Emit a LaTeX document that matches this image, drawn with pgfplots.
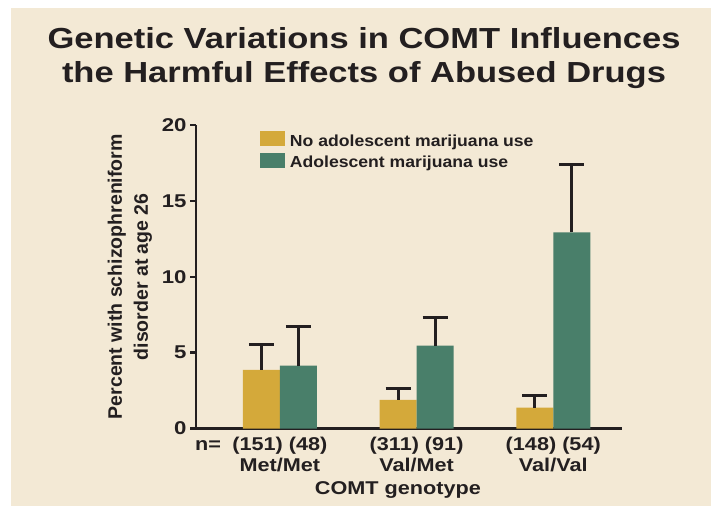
\documentclass[border=0pt]{standalone}
\usepackage{pgfplots}
\pgfplotsset{compat=1.18}
\usepackage{pgfplotstable}
\usepackage{fontspec}
\setmainfont{Liberation Sans}
\newfontfamily\fTitle[FakeStretch=1.19]{Liberation Sans}
\newfontfamily\fTick[FakeStretch=1.17]{Liberation Sans}
\newfontfamily\fYt[FakeStretch=1.2]{Liberation Sans}
\newfontfamily\fLeg[FakeStretch=1.1]{Liberation Sans}
\definecolor{bg}{RGB}{243,233,213}
\definecolor{ink}{RGB}{35,31,32}
\definecolor{gold}{RGB}{212,169,58}
\definecolor{teal}{RGB}{73,127,106}

\pgfplotstableread{
x y e
0 3.86 1.69
1 1.88 0.73
2 1.37 0.83
}\nouse
\pgfplotstableread{
x y e
0 4.14 2.61
1 5.46 1.83
2 12.93 4.47
}\yesuse

\begin{document}
\begin{tikzpicture}
\fill[white] (0,0) rectangle (711pt,506pt);
\fill[bg] (11pt,0) rectangle (711pt,498pt);
\node[anchor=base, text=ink, font=\fTitle\bfseries\fontsize{29}{34}\selectfont] at (364pt,457pt) {Genetic Variations in COMT Influences};
\node[anchor=base, text=ink, font=\fTitle\bfseries\fontsize{29}{34}\selectfont] at (364pt,423pt) {the Harmful Effects of Abused Drugs};
\begin{axis}[
  at={(196pt,77.5pt)}, anchor=south west,
  scale only axis, width=426pt, height=303.5pt,
  clip=false,
  axis lines=left, axis line style={-, line width=2.5pt, ink},
  xmin=-0.614, xmax=2.503, ymin=0, ymax=20,
  ybar=0pt, bar width=37pt,
  xtick={0,1,2},
  xticklabels={Met/Met, Val/Met, Val/Val},
  major x tick style={draw=none},
  extra x ticks={0,1,2},
  extra x tick labels={(151) (48), (311) (91), (148) (54)},
  extra x tick style={major x tick style={draw=none}, xticklabel style={yshift=21.7pt}},
  xticklabel style={anchor=base, yshift=-37.2pt, text=ink, font=\fTick\bfseries\fontsize{18.5}{18.5}\selectfont},
  ytick={0,5,10,15,20},
  tick align=outside, major tick length=6pt,
  major y tick style={line width=2.5pt, ink},
  yticklabel style={text=ink, font=\fYt\bfseries\fontsize{18.5}{18.5}\selectfont},
  /pgf/number format/assume math mode=true,
  ylabel={Percent with schizophreniform\\disorder at age 26},
  ylabel style={at={(axis description cs:-0.155,0.5)}, anchor=center, align=center, text=ink, font=\bfseries\fontsize{19.5}{26}\selectfont},
  xlabel={COMT genotype},
  xlabel style={at={(axis description cs:0.474,-0.219)}, anchor=base, text=ink, font=\fTick\bfseries\fontsize{18.5}{18.5}\selectfont},
  legend style={at={(axis description cs:0.1502,0.980)}, anchor=north west, draw=none, fill=none, inner sep=0pt, outer sep=0pt, row sep=2.6pt, column sep=5pt,
    nodes={inner sep=0pt, text height=12pt, text depth=4pt, anchor=base west, text=ink, font=\fLeg\bfseries\fontsize{16}{16}\selectfont}},
  legend cell align=left,
  legend image code/.code={\fill[#1] (0pt,0pt) rectangle (25pt,15pt);},
  error bars/y dir=plus, error bars/y explicit,
  error bars/error bar style={line width=3pt, ink},
  error bars/error mark options={rotate=90, mark size=12.5pt, line width=3pt, ink},
]
\addplot[fill=gold, draw=none] table[x=x, y=y, y error=e] {\nouse};
\addplot[fill=teal, draw=none] table[x=x, y=y, y error=e] {\yesuse};
\legend{No adolescent marijuana use, Adolescent marijuana use}
\node[anchor=base west, text=ink, font=\fTick\bfseries\fontsize{18.5}{18.5}\selectfont, inner sep=0pt] at (axis cs:-0.622,0) [yshift=-21.5pt] {n=};
\end{axis}
\end{tikzpicture}
\end{document}
